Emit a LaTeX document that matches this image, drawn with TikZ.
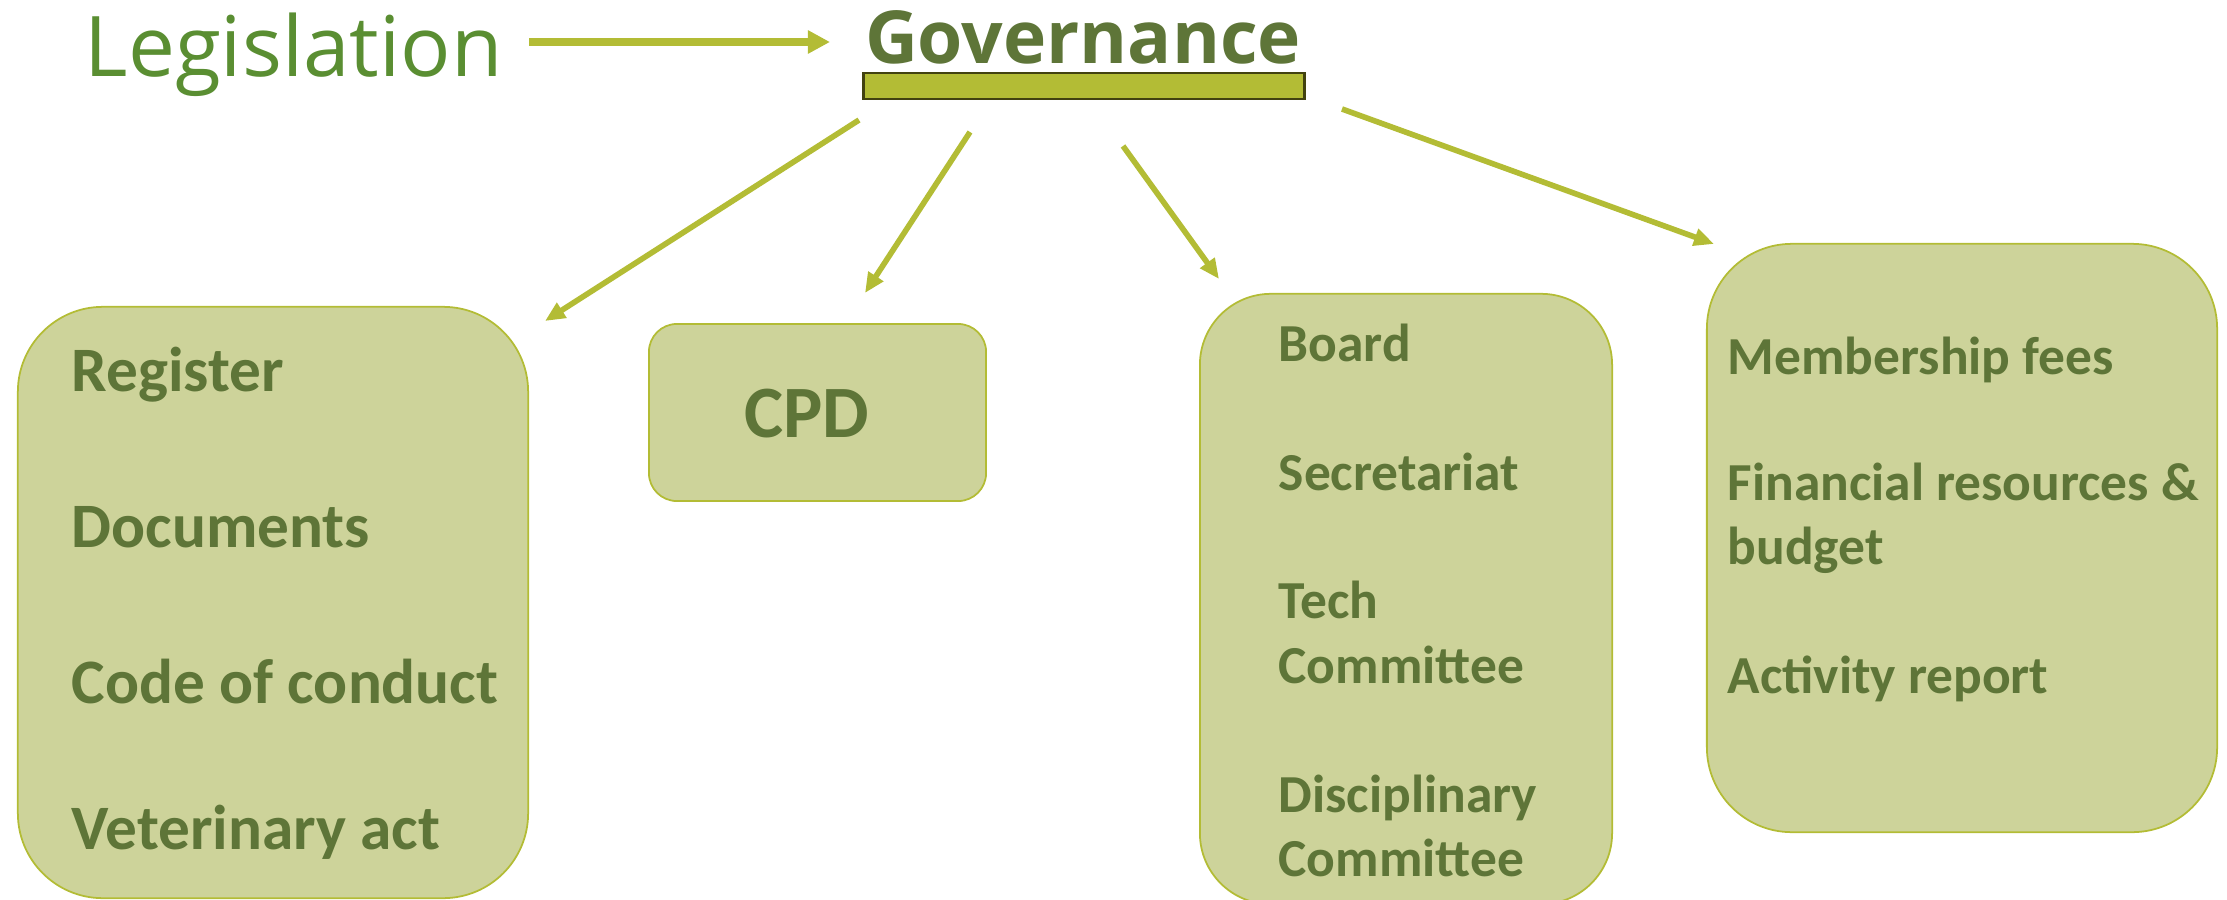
\documentclass[tikz,border=0pt]{standalone}
\usepackage{fontspec}
\setmainfont{Carlito}
\newfontfamily\headfont{Open Sans}
\usetikzlibrary{arrows.meta}
\definecolor{leaftext}{RGB}{94,117,56}
\definecolor{legistext}{RGB}{90,142,50}
\definecolor{panelfill}{RGB}{205,211,154}
\definecolor{oliveline}{RGB}{179,188,53}
\definecolor{bardark}{RGB}{66,66,16}

\begin{document}
\begin{tikzpicture}[x=0.01cm,y=-0.01cm,
        panel/.style={
            draw=oliveline, line width=0.5pt, fill=panelfill,
            rectangle, inner sep=0pt},
        item/.style={anchor=base west, inner sep=0pt,
            text=leaftext, font=\bfseries\fontsize{18}{18}\selectfont},
        smallitem/.style={item, font=\bfseries\fontsize{15.2}{15.2}\selectfont},
        link/.style={draw=oliveline, line width=1.6pt,
            -{Triangle[length=0.2cm,width=0.17cm]}}]
        \useasboundingbox (0,0) rectangle (2227,900);
        %boxes
        \node[panel, minimum width=5.10cm, minimum height=5.91cm,
            rounded corners=0.85cm] (regbox) at (273,602.5) {};
        \node[panel, minimum width=3.37cm, minimum height=1.77cm,
            rounded corners=0.28cm] (cpdbox) at (817.5,412.5) {};
        \node[panel, minimum width=4.12cm, minimum height=6.10cm,
            rounded corners=0.71cm] (orgbox) at (1406,599) {};
        \node[panel, minimum width=5.10cm, minimum height=5.88cm,
            rounded corners=0.85cm] (finbox) at (1962,538) {};
        %titles
        \node[anchor=base west, inner sep=0pt, text=legistext,
            font=\headfont\fontsize{23.8}{23.8}\selectfont] (leg) at (84,76) {Legislation};
        \node[anchor=base, inner sep=0pt, text=leaftext,
            font=\headfont\bfseries\fontsize{20.8}{20.8}\selectfont] (gov) at (1083,64) {Governance};
        \node[draw=bardark, line width=0.8pt, fill=oliveline, inner sep=0pt,
            minimum width=4.4cm, minimum height=0.26cm] (bar) at (1084,86) {};
        %box texts
        \foreach \y/\ytext in {391/Register,547/Documents,
            703/Code of conduct,849/Veterinary act}
        \node[item] (reg\y) at (71,\y) {\ytext};
        \node[anchor=center, text=leaftext,
            font=\bfseries\fontsize{21}{21}\selectfont] (cpd) at (807,414) {CPD};
        \foreach \y/\ytext in {361/Board,490/Secretariat,618/Tech,
            683/Committee,812/Disciplinary,876/Committee}
        \node[smallitem] (org\y) at (1278,\y) {\ytext};
        \foreach \y/\ytext in {374/Membership fees,500/Financial resources \&,
            564/budget,693/Activity report}
        \node[smallitem] (fin\y) at (1727,\y) {\ytext};
        %arrows
        \coordinate (l0) at (529,42);
        \coordinate (l1) at (830,42);
        \draw[link, line width=2.2pt, -{Triangle[length=0.22cm,width=0.22cm]}] (l0) -- (l1);
        \foreach \i/\sx/\sy/\ex/\ey in {1/859/120/545/321,2/970/132/865/293,
            3/1123/146/1219/279,4/1342/109/1714/244}
        {
        \coordinate (s\i) at (\sx,\sy);
        \coordinate (e\i) at (\ex,\ey);
        \draw[link] (s\i) -- (e\i);
        }
    \end{tikzpicture}
\end{document}
